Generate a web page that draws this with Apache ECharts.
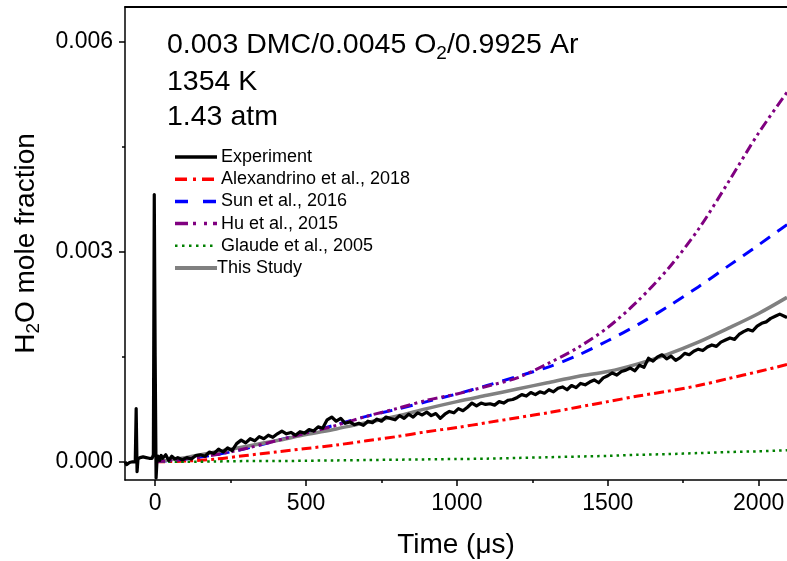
<!DOCTYPE html>
<html>
<head>
<meta charset="utf-8">
<script src="https://cdn.jsdelivr.net/npm/echarts@6/dist/echarts.min.js"></script>
<style>
html,body{margin:0;padding:0;background:#fff;}
#chart{width:787px;height:561px;}
</style>
</head>
<body>
<div id="chart"></div>
<script>
// ---- data (time in microseconds, mole fraction) ----
var expTime = [-100,-95,-90,-85,-80,-75,-70,-66,-63,-60,-57,-50,-45,-40,-35,-30,-25,-20,-15,-10,-6,-3,0,3,6,10,15,20,25,35,45,55,65,75,90,105,120,135,150,165,180,195,210,225,240,255,270,285,300,315,330,345,360,375,390,405,420,435,450,465,480,495,510,525,540,555,570,585,600,615,630,645,660,675,690,705,720,735,750,765,780,795,810,825,840,855,870,885,900,915,930,945,960,975,990,1005,1020,1035,1050,1065,1080,1095,1110,1125,1140,1155,1170,1185,1200,1215,1230,1245,1260,1275,1290,1305,1320,1335,1350,1365,1380,1395,1410,1425,1440,1455,1470,1485,1500,1515,1530,1545,1560,1575,1590,1605,1620,1635,1650,1665,1680,1695,1710,1725,1740,1755,1770,1785,1800,1815,1830,1845,1860,1875,1890,1905,1920,1935,1950,1965,1980,1995,2010,2025,2040,2055,2070,2085,2094];
var expH2O = [0.00000,-0.00004,-0.00003,-0.00001,0.00001,0.00000,0.00002,0.00000,0.00076,-0.00014,0.00004,0.00006,0.00005,0.00007,0.00005,0.00006,0.00004,0.00005,0.00006,0.00005,0.00010,0.00382,0.00150,-0.00023,0.00002,0.00008,0.00002,0.00009,0.00005,0.00010,0.00002,0.00008,0.00004,0.00006,0.00003,0.00006,0.00004,0.00009,0.00010,0.00008,0.00014,0.00012,0.00018,0.00014,0.00020,0.00016,0.00026,0.00031,0.00027,0.00033,0.00030,0.00036,0.00033,0.00038,0.00035,0.00040,0.00044,0.00040,0.00042,0.00038,0.00043,0.00041,0.00046,0.00044,0.00050,0.00048,0.00060,0.00064,0.00058,0.00062,0.00055,0.00057,0.00053,0.00055,0.00052,0.00058,0.00056,0.00061,0.00058,0.00064,0.00062,0.00060,0.00066,0.00062,0.00068,0.00064,0.00070,0.00067,0.00071,0.00066,0.00069,0.00062,0.00068,0.00072,0.00070,0.00076,0.00073,0.00078,0.00084,0.00080,0.00084,0.00082,0.00083,0.00081,0.00086,0.00084,0.00088,0.00089,0.00092,0.00096,0.00094,0.00099,0.00096,0.00100,0.00098,0.00103,0.00100,0.00105,0.00107,0.00103,0.00109,0.00106,0.00112,0.00110,0.00114,0.00117,0.00113,0.00120,0.00123,0.00127,0.00124,0.00129,0.00131,0.00134,0.00130,0.00138,0.00135,0.00148,0.00144,0.00150,0.00153,0.00147,0.00151,0.00145,0.00149,0.00155,0.00153,0.00158,0.00161,0.00159,0.00164,0.00167,0.00165,0.00171,0.00174,0.00177,0.00175,0.00182,0.00186,0.00189,0.00187,0.00194,0.00198,0.00200,0.00205,0.00208,0.00211,0.00208,0.00206];

var modelTime   = [0,100,200,300,400,500,600,700,800,900,1000,1100,1200,1300,1400,1500,1600,1700,1800,1900,2000,2094];
var alexandrino = [0,0.00001,0.00004,0.00009,0.00014,0.00019,0.00024,0.00030,0.00036,0.00043,0.00049,0.00056,0.00063,0.00070,0.00078,0.00086,0.00094,0.00101,0.00109,0.00119,0.00129,0.00139];
var sun         = [0,0.00004,0.00010,0.00019,0.00030,0.00041,0.00053,0.00065,0.00075,0.00086,0.00097,0.00109,0.00122,0.00135,0.00152,0.00173,0.00196,0.00222,0.00250,0.00280,0.00310,0.00339];
var hu          = [0,0.00004,0.00010,0.00019,0.00030,0.00041,0.00052,0.00065,0.00076,0.00088,0.00097,0.00108,0.00120,0.00140,0.00163,0.00192,0.00230,0.00276,0.00332,0.00400,0.00470,0.00528];
var glaude      = [0,0,0.000005,0.00001,0.00001,0.000015,0.00002,0.000025,0.00003,0.000035,0.00004,0.000045,0.000055,0.000065,0.000075,0.000085,0.0001,0.00011,0.000125,0.00014,0.00015,0.000165];
var thisStudy   = [0,0.00006,0.00014,0.00022,0.00030,0.00039,0.00047,0.00056,0.00065,0.00076,0.00086,0.00095,0.00104,0.00113,0.00122,0.00129,0.00140,0.00154,0.00171,0.00191,0.00212,0.00235];

var xMajorTicks = [0,500,1000,1500,2000];
var xMinorTicks = [-250,250,750,1250,1750];
var yMajorTicks = [0,0.003,0.006];
var yMinorTicks = [0.0015,0.0045];

var seriesNames = ['Experiment','Alexandrino et al., 2018','Sun et al., 2016','Hu et al., 2015','Glaude et al., 2005','This Study'];

function pairs(xs, ys){ return xs.map(function(x,i){ return [x, ys[i]]; }); }

var X_MIN = -100, X_MAX = 2094, Y_MIN = -0.00026, Y_MAX = 0.0065;
var FONT = 'Liberation Sans, Arial, sans-serif';

var styles = {
  'Experiment':               {color:'#000000', width:3.2, dash:null,          legendDash:null,         lw:3.5},
  'Alexandrino et al., 2018': {color:'#ff0000', width:3,   dash:[10,4,3,4],    legendDash:[12,6,3,6],   lw:3.5},
  'Sun et al., 2016':         {color:'#0000ff', width:3,   dash:[12,9],        legendDash:[13,15],      lw:3.5},
  'Hu et al., 2015':          {color:'#800080', width:3,   dash:[10,4,3,4,3,4],legendDash:[13,5,3,8,3,6],lw:3.5},
  'Glaude et al., 2005':      {color:'#008000', width:2.5, dash:[2.5,4],       legendDash:[2.5,4.5],    lw:2.5},
  'This Study':               {color:'#808080', width:3.5, dash:null,          legendDash:null,         lw:4}
};

var chart = echarts.init(document.getElementById('chart'), null, {renderer:'canvas'});

var baseX = {type:'value', min:X_MIN, max:X_MAX, splitLine:{show:false}};
var baseY = {type:'value', min:Y_MIN, max:Y_MAX, splitLine:{show:false}};

// manual legend graphics
var legendGraphics = [];
var legendX = 175, legendY0 = 157, legendRow = 22.2;
seriesNames.forEach(function(n, i){
  var s = styles[n];
  var y = legendY0 + i * legendRow;
  var ls = {stroke:s.color, lineWidth:s.lw};
  if (s.legendDash) ls.lineDash = s.legendDash;
  legendGraphics.push({type:'line', shape:{x1:legendX, y1:y, x2:legendX + 42, y2:y}, style:ls, z:100});
  legendGraphics.push({type:'text', x:legendX + (n === 'This Study' ? 42 : 46), y:y,
    style:{text:n, font:'18px ' + FONT, fill:'#000', textVerticalAlign:'middle', verticalAlign:'middle'}, z:100});
});

function mkSeries(name, xs, ys, z, smooth){
  var s = styles[name];
  var ls = {color:s.color, width:s.width, join:'round'};
  if (s.dash) ls.type = s.dash;
  return {name:name, type:'line', data:pairs(xs, ys), showSymbol:false, symbol:'none', z:z,
    smooth:smooth, lineStyle:ls, itemStyle:{color:s.color}};
}

var option = {
  backgroundColor:'#fff',
  animation:false,
  grid:{left:125, right:0, top:7, bottom:81, containLabel:false, outerBoundsMode:'none'},
  textStyle:{fontFamily:FONT},
  xAxis:[
    Object.assign({}, baseX, {
      position:'bottom',
      axisLine:{show:true, onZero:false, lineStyle:{color:'#000', width:1.5}},
      axisTick:{show:true, inside:false, length:6, customValues:xMajorTicks, lineStyle:{color:'#000', width:1.5}},
      axisLabel:{show:true, customValues:xMajorTicks, margin:12, color:'#000', fontSize:23, fontFamily:FONT,
        formatter:function(v){ return String(v); }},
      name:'Time (\u03bcs)', nameLocation:'middle', nameGap:51,
      nameTextStyle:{color:'#000', fontSize:28, fontFamily:FONT}
    }),
    Object.assign({}, baseX, {
      position:'bottom',
      axisLine:{show:false, onZero:false},
      axisTick:{show:true, inside:false, length:3, customValues:xMinorTicks, lineStyle:{color:'#000', width:1.5}},
      axisLabel:{show:false}
    }),
    Object.assign({}, baseX, {
      position:'top',
      axisLine:{show:true, onZero:false, lineStyle:{color:'#000', width:1.8}},
      axisTick:{show:false},
      axisLabel:{show:false}
    })
  ],
  yAxis:[
    Object.assign({}, baseY, {
      position:'left',
      axisLine:{show:true, onZero:false, lineStyle:{color:'#000', width:1.5}},
      axisTick:{show:true, inside:false, length:6, customValues:yMajorTicks, lineStyle:{color:'#000', width:1.5}},
      axisLabel:{show:true, customValues:yMajorTicks, margin:12, color:'#000', fontSize:23, fontFamily:FONT,
        formatter:function(v){ return v.toFixed(3); }},
      name:'H{sub|2}O mole fraction', nameLocation:'middle', nameGap:82, nameRotate:90,
      nameTextStyle:{color:'#000', fontSize:28, fontFamily:FONT,
        rich:{sub:{fontSize:19, verticalAlign:'bottom', padding:[15,0,0,0], fontFamily:FONT, color:'#000'}}}
    }),
    Object.assign({}, baseY, {
      position:'left',
      axisLine:{show:false, onZero:false},
      axisTick:{show:true, inside:false, length:3, customValues:yMinorTicks, lineStyle:{color:'#000', width:1.5}},
      axisLabel:{show:false}
    })
  ],
  graphic:[
    {type:'text', left:167, top:31, style:{
      text:'0.003 DMC/0.0045 O{sub|2}/0.9925 Ar',
      font:'28.5px ' + FONT, fill:'#000',
      rich:{sub:{fontSize:19, fontFamily:FONT, fill:'#000', verticalAlign:'bottom', padding:[17,0,0,0]}}
    }},
    {type:'text', left:167, top:68, style:{text:'1354 K', font:'28.5px ' + FONT, fill:'#000'}},
    {type:'text', left:167, top:103, style:{text:'1.43 atm', font:'28.5px ' + FONT, fill:'#000'}}
  ].concat(legendGraphics),
  series:[
    mkSeries('Alexandrino et al., 2018', modelTime, alexandrino, 3, 0.3),
    mkSeries('Sun et al., 2016', modelTime, sun, 3, 0.3),
    mkSeries('Hu et al., 2015', modelTime, hu, 4, 0.3),
    mkSeries('Glaude et al., 2005', modelTime, glaude, 3, 0.3),
    mkSeries('This Study', modelTime, thisStudy, 3, 0.3),
    mkSeries('Experiment', expTime, expH2O, 5, false)
  ]
};
chart.setOption(option);
</script>
</body>
</html>
